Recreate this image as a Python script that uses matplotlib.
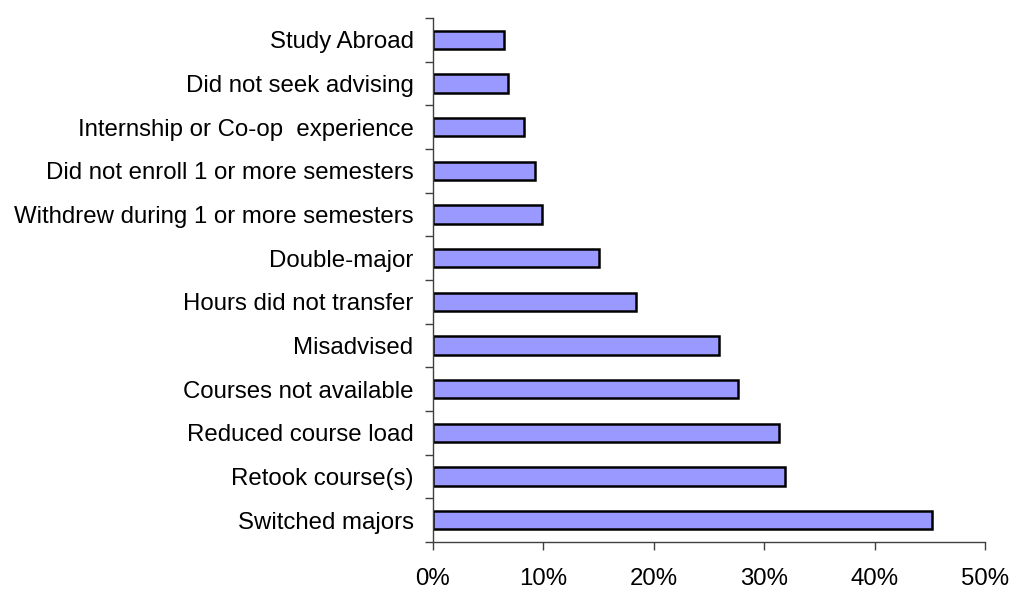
import numpy as np
import matplotlib
matplotlib.use('Agg')
import matplotlib.pyplot as plt
from matplotlib.ticker import FixedLocator, PercentFormatter

# bottom to top
reasons = ['Switched majors', 'Retook course(s)', 'Reduced course load',
           'Courses not available', 'Misadvised', 'Hours did not transfer',
           'Double-major', 'Withdrew during 1 or more semesters',
           'Did not enroll 1 or more semesters',
           'Internship or Co-op  experience', 'Did not seek advising',
           'Study Abroad']
percent = [45.2, 31.9, 31.3, 27.6, 25.9, 18.4, 15.0, 9.9, 9.2, 8.2, 6.8, 6.4]
xticks = [0, 10, 20, 30, 40, 50]

plt.rcParams['font.family'] = ['Liberation Sans', 'DejaVu Sans']

fig = plt.figure(figsize=(10.12, 5.90), dpi=100)
ax = fig.add_axes([433 / 1012, 1 - 542 / 590, (985 - 433) / 1012, (542 - 18) / 590])

y = np.arange(len(reasons))
ax.barh(y, percent, height=0.42, color='#9999ff', edgecolor='black', linewidth=1.8)

ax.set_xlim(0, 50)
ax.set_ylim(-0.5, len(reasons) - 0.5)

ax.set_xticks(xticks)
ax.xaxis.set_major_formatter(PercentFormatter(decimals=0))
ax.set_yticks(y)
ax.set_yticklabels(reasons)
ax.yaxis.set_minor_locator(FixedLocator(np.arange(-0.5, len(reasons), 1.0)))

ax.tick_params(axis='y', which='major', length=0, pad=14, labelsize=17.3)
ax.tick_params(axis='y', which='minor', length=6, width=1, color='#404040')
ax.tick_params(axis='x', length=6, width=1, direction='out', color='#404040', pad=13, labelsize=17.3)

for side in ['top', 'right']:
    ax.spines[side].set_visible(False)
for side in ['left', 'bottom']:
    ax.spines[side].set_color('#404040')
    ax.spines[side].set_linewidth(1)

fig.savefig('out.png', dpi=100)
